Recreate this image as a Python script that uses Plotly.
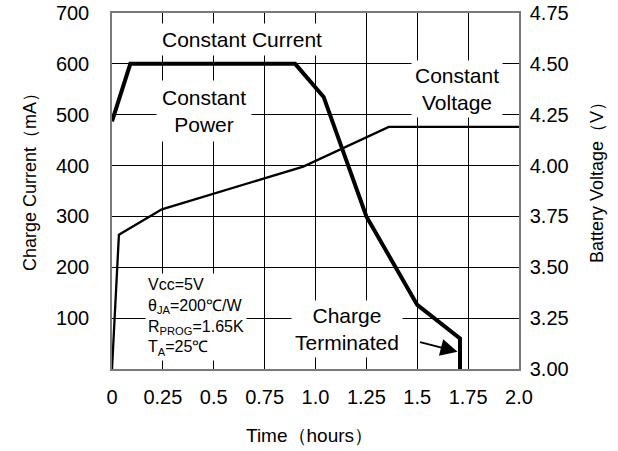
import plotly.graph_objects as go

# ---- data ----
time_current = [0, 0.09, 0.90, 1.04, 1.25, 1.50, 1.71, 1.71]
charge_current = [487, 600, 600, 535, 300, 126, 60, 0]

time_voltage = [0, 0.034, 0.245, 0.94, 1.36, 2.0]
battery_voltage = [3.0, 3.66, 3.785, 3.995, 4.19, 4.19]

x_ticks = [0, 0.25, 0.5, 0.75, 1.0, 1.25, 1.5, 1.75, 2.0]
x_ticktext = ["0", "0.25", "0.5", "0.75", "1.0", "1.25", "1.5", "1.75", "2.0"]
y_ticks = [100, 200, 300, 400, 500, 600, 700]
y2_ticks = [3.00, 3.25, 3.50, 3.75, 4.00, 4.25, 4.50, 4.75]

FONT = "Liberation Sans, Arial, sans-serif"
W, H = 618, 451
ML, MT = 112, 13
PW, PH = 407, 356
MR, MB = W - ML - PW, H - MT - PH

fig = go.Figure()
fig.add_trace(go.Scatter(x=time_voltage, y=battery_voltage, yaxis="y2", mode="lines",
                         line=dict(color="black", width=2.3), showlegend=False,
                         hoverinfo="skip"))
fig.add_trace(go.Scatter(x=time_current, y=charge_current, mode="lines",
                         line=dict(color="black", width=4), showlegend=False,
                         hoverinfo="skip"))

axis_common = dict(showline=True, linecolor="#7a7a7a", linewidth=1.5, zeroline=False,
                   automargin=False, ticks="", ticklabeloverflow="allow",
                   tickfont=dict(family=FONT, size=20, color="black"))

fig.update_layout(
    width=W, height=H,
    margin=dict(l=ML, r=MR, t=MT, b=MB, autoexpand=False),
    plot_bgcolor="white", paper_bgcolor="white",
    font=dict(family=FONT, color="black"),
    xaxis=dict(range=[0, 2.0], tickvals=x_ticks, ticktext=x_ticktext,
               showgrid=True, gridcolor="black", gridwidth=1, mirror=True,
               ticklabelstandoff=9, **axis_common),
    yaxis=dict(range=[0, 700], tickvals=y_ticks, showgrid=True, gridcolor="black",
               gridwidth=1, mirror=True, ticklabelstandoff=17, **axis_common),
    yaxis2=dict(range=[3.0, 4.75], tickvals=y2_ticks,
                ticktext=[f"{v:.2f}" for v in y2_ticks], overlaying="y", side="right",
                showgrid=False, ticklabelstandoff=5, **axis_common),
)

def px(xp):
    return (xp - ML) / PW

def py(yp):
    return (MT + PH - yp) / PH

ann_font = dict(family=FONT, size=21, color="black")
labels = [
    ("Constant Current", 0.64, 647, 4),
    ("Constant<br>Power", 0.45, 507, 5),
    ("Constant<br>Voltage", 1.695, 550, 3),
    ("Charge<br>Terminated", 1.155, 79, 3),
]
for text, x, y, pad in labels:
    fig.add_annotation(x=x, y=y, xref="x", yref="y", text=text, showarrow=False,
                       font=ann_font, bgcolor="white", borderpad=pad, align="center")

fig.add_annotation(x=0.16, y=102, xref="x", yref="y", xanchor="left", yanchor="middle",
                   text="Vcc=5V<br>θ<sub>JA</sub>=200℃/W<br>R<sub>PROG</sub>=1.65K<br>T<sub>A</sub>=25℃",
                   showarrow=False, align="left", bgcolor="white", borderpad=2,
                   font=dict(family=FONT, size=16, color="black"))

# arrow pointing to termination
fig.add_annotation(x=1.698, y=34, xref="x", yref="y", ax=-39, ay=-10, axref="pixel", ayref="pixel",
                   text="", showarrow=True, arrowhead=2, arrowsize=1.7, arrowwidth=2, arrowcolor="black")

# axis titles
fig.add_annotation(x=px(30), y=py(178), xref="paper", yref="paper", text="Charge Current（mA）",
                   textangle=-90, showarrow=False, xanchor="center", yanchor="middle",
                   font=dict(family=FONT, size=18, color="black"))
fig.add_annotation(x=px(597), y=py(178), xref="paper", yref="paper", text="Battery Voltage（V）",
                   textangle=-90, showarrow=False, xanchor="center", yanchor="middle",
                   font=dict(family=FONT, size=18, color="black"))
fig.add_annotation(x=px(309), y=py(435), xref="paper", yref="paper", text="Time（hours）",
                   showarrow=False, xanchor="center", yanchor="middle",
                   font=dict(family=FONT, size=19, color="black"))

fig.write_html("out.html", config={"displayModeBar": False},
               post_script="document.body.style.margin='0';")
